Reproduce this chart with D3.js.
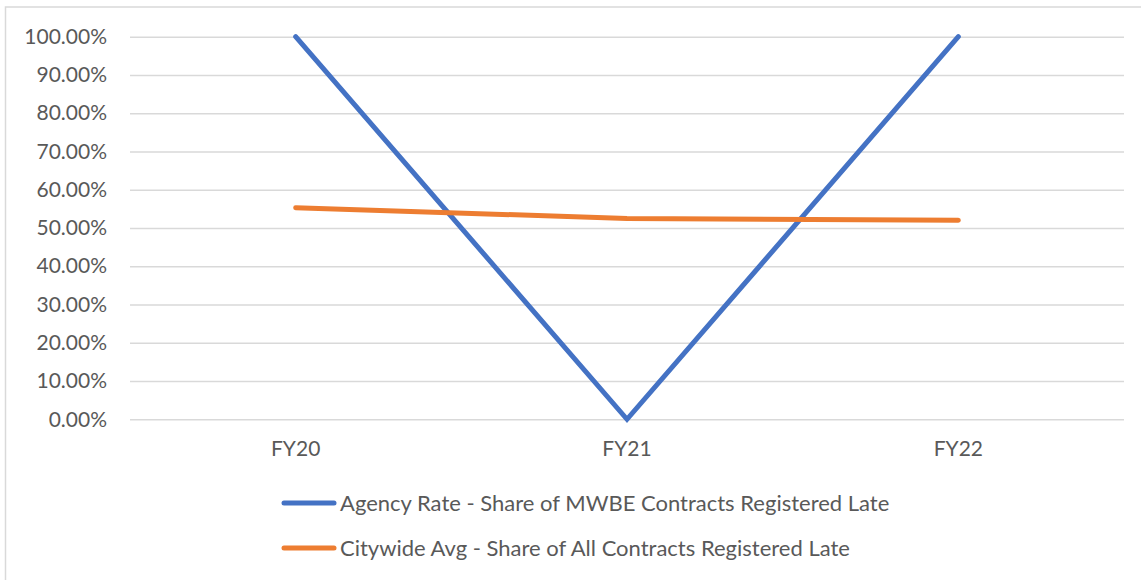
<!DOCTYPE html>
<html>
<head lang="en">
    <meta charset="UTF-8">
    <script src="https://cdn.jsdelivr.net/npm/d3@7/dist/d3.min.js" charset="utf-8"></script>
    <title></title>
    <style>
        body { margin: 0; background: #fff; }
        svg text { font-family: Lato, "Open Sans", sans-serif; fill: #595959; }
    </style>
</head>
<body>

<div id="chart"></div>

<script>
    // chart values
    var years = ["FY20", "FY21", "FY22"];
    var agencyRate = [1.00, 0.00, 1.00];
    var citywideAvg = [0.553, 0.525, 0.520];
    var yTicks = [0, 0.1, 0.2, 0.3, 0.4, 0.5, 0.6, 0.7, 0.8, 0.9, 1.0];
    var seriesNames = ["Agency Rate - Share of MWBE Contracts Registered Late",
                       "Citywide Avg - Share of All Contracts Registered Late"];
    var seriesColors = ["#4472C4", "#ED7D31"];

    var width = 1141, height = 580;
    var plot = {left: 130, right: 1124, top: 36.7, bottom: 419.3};

    var svg = d3.select("#chart").append("svg")
            .attr("width", width)
            .attr("height", height);

    // outer chart border
    svg.append("rect")
            .attr("x", 5.5).attr("y", 7)
            .attr("width", width + 10).attr("height", height + 10)
            .attr("fill", "none")
            .attr("stroke", "#d9d9d9")
            .attr("stroke-width", 1.5);

    var x = d3.scaleBand().domain(years).range([plot.left, plot.right]);
    var y = d3.scaleLinear().domain([0, 1]).range([plot.bottom, plot.top]);

    // gridlines + y labels
    var yAxis = d3.axisLeft(y)
            .tickValues(yTicks)
            .tickSize(-(plot.right - plot.left))
            .tickPadding(23)
            .tickFormat(d3.format(".2%"));

    var gy = svg.append("g")
            .attr("transform", "translate(" + plot.left + ",0)")
            .call(yAxis);
    gy.select(".domain").remove();
    gy.selectAll(".tick line").attr("stroke", "#d9d9d9").attr("stroke-width", 1.4);
    gy.selectAll(".tick text")
            .style("font-size", "21px")
            .attr("fill", "#595959");

    // x labels
    var xAxis = d3.axisBottom(x).tickSize(0).tickPadding(22);
    var gx = svg.append("g")
            .attr("transform", "translate(0," + plot.bottom + ")")
            .call(xAxis);
    gx.select(".domain").remove();
    gx.selectAll(".tick text")
            .style("font-size", "21px")
            .attr("fill", "#595959");

    var line = d3.line()
            .x(function(d, i) { return x(years[i]) + x.bandwidth() / 2; })
            .y(function(d) { return y(d); });

    [agencyRate, citywideAvg].forEach(function(s, i) {
        svg.append("path")
                .datum(s)
                .attr("d", line)
                .attr("fill", "none")
                .attr("stroke", seriesColors[i])
                .attr("stroke-width", 5)
                .attr("stroke-linecap", "round")
                .attr("stroke-linejoin", "miter");
    });

    // legend
    var legend = svg.append("g");
    seriesNames.forEach(function(name, i) {
        var ly = 503 + i * 45;
        legend.append("line")
                .attr("x1", 284).attr("x2", 334)
                .attr("y1", ly).attr("y2", ly)
                .attr("stroke", seriesColors[i])
                .attr("stroke-width", 5)
                .attr("stroke-linecap", "round");
        legend.append("text")
                .attr("x", 340).attr("y", ly)
                .attr("dy", "0.35em")
                .style("font-size", "22px")
                .text(name);
    });

</script>

</body>
</html>
